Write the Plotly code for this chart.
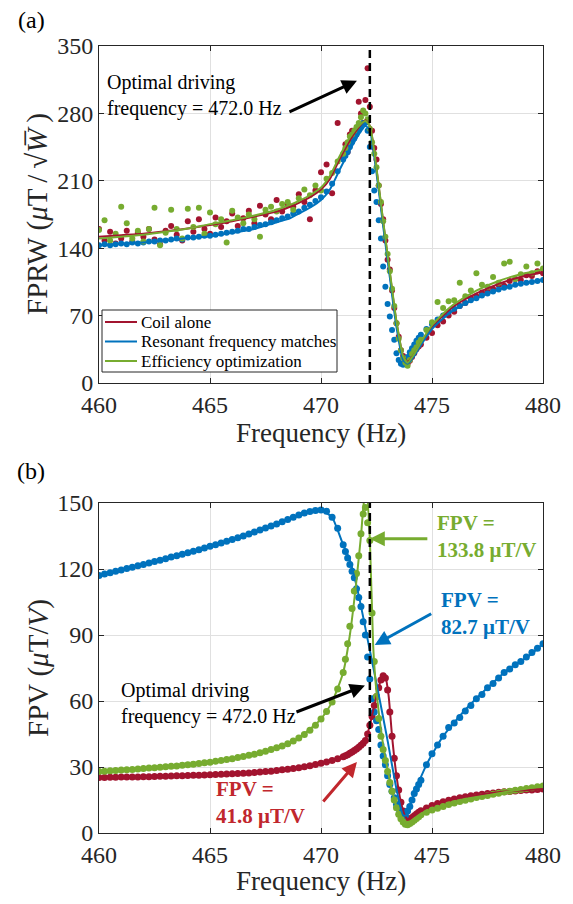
import numpy as np
import plotly.graph_objects as go

# ---------------- data ----------------
# measurement frequency grid (Hz)
FREQ = np.round(np.concatenate([
    np.arange(460.0, 471.001, 0.25),
    np.arange(471.1, 474.401, 0.1),
    np.arange(474.5, 480.001, 0.25),
]), 2)

# (a) FPRW measured points
FPRW_COIL = [160,148,157,145,150,158,147,156,152,160,149,144,158,163,154,148,168,157,170,160,155,172,162,168,176,163,171,179,166,184,175,170,190,178,186,183,196,188,170,200,219,227,197,270,235,
             248,240,258,262,255,264,292,280,270,294,327,287,262,244,232,205,186,170,148,128,118,96,78,62,48,34,28,22,20,23,27,31,35,38,
             40,47,52,60,64,70,74,80,83,88,90,94,95,98,102,101,106,108,107,112,111,116,114]
FPRW_RES = [143,144,143,144,145,144,146,145,146,147,147,148,148,149,150,149,151,151,152,153,153,154,155,156,157,158,160,160,162,164,165,167,169,171,173,176,178,182,185,189,193,199,207,220,232,
            236,240,245,250,254,258,262,266,270,270,262,245,220,200,188,169,150,121,100,82,69,55,45,31,24,20,19,22,27,32,36,40,44,47,
            50,56,61,66,70,74,77,80,83,86,88,91,93,95,97,99,100,102,103,104,105,106,107]
FPRW_EFF = [159,169,148,155,183,166,150,158,147,160,182,143,156,180,160,150,181,162,182,155,177,165,170,146,179,172,166,175,170,152,180,183,178,186,188,180,192,201,195,205,200,212,218,230,238,
            244,250,256,258,262,266,270,276,283,280,274,264,250,238,224,205,188,168,152,134,116,98,80,62,46,34,26,21,18,24,30,34,37,42,
            45,55,63,84,78,85,86,104,90,96,114,102,100,110,104,124,126,108,113,121,114,124,119]

# (a) fitted curves
FIT_A_FREQ = [460, 461, 462, 463, 464, 465, 466, 467, 468, 468.6, 469, 469.5, 470, 470.4, 470.85, 471.3, 471.75, 472.0, 472.2,
              472.5, 472.8, 473.1, 473.4, 473.7, 473.9, 474.2, 474.6, 475, 475.5, 476, 477, 478, 479, 480]
FIT_A_COIL = [152, 153.5, 155, 157.5, 160.5, 164, 168, 173, 178, 183, 187, 193, 201, 212, 233, 252, 267, 273, 267,
              222, 167, 114, 63, 28, 22, 30, 45, 58, 70, 80, 93, 103, 110, 115]
FIT_A_RES = [143, 144.5, 146, 148, 150.5, 152.5, 156, 160, 167, 171, 176, 182, 190, 201, 222, 242, 260, 267, 262,
             218, 163, 110, 58, 24, 20, 28, 43, 56, 67, 76, 88, 97, 103, 107]
FIT_A_EFF = [150, 152, 154, 157, 160.5, 165, 169, 174, 180, 185, 189, 195, 203, 215, 236, 255, 268, 272, 267,
             223, 168, 116, 64, 28, 21, 30, 46, 60, 72, 82, 96, 106, 113, 118]

# (b) FPV measured points
FPV_COIL = [25.2,25.2,25.3,25.3,25.4,25.4,25.5,25.5,25.6,25.6,25.7,25.8,25.8,25.9,26.0,26.0,26.1,26.2,26.3,26.4,26.5,26.6,26.7,26.8,26.9,27.0,27.2,27.3,27.5,27.7,27.9,28.1,28.4,28.7,29.0,29.3,29.7,30.1,30.6,31.1,31.7,32.3,33.0,33.8,34.7,
            35.1,35.6,36.2,36.8,37.5,38.2,39.0,39.9,40.8,42.0,45,49,53,58,62,66,69.5,71.5,70.5,65,55,44,34,26,19.5,14,10,7.5,6,6.3,7,7.8,8.6,9.4,
            10.1,11.4,12.5,13.4,14.2,14.9,15.5,16.0,16.5,16.9,17.3,17.6,17.9,18.2,18.5,18.7,18.9,19.1,19.3,19.5,19.6,19.8,20.0]
FPV_RES = [117.0,117.7,118.3,119.0,119.6,120.2,120.8,121.5,122.1,122.7,123.4,124.0,124.7,125.4,126.0,126.7,127.4,128.1,128.8,129.5,130.3,131.0,131.8,132.6,133.4,134.2,135.0,135.9,136.8,137.7,138.6,139.5,140.5,141.5,142.5,143.5,144.5,145.4,146.1,146.6,146.8,146.3,143.5,138.5,131.0,
           128,125,122,119,116,111,107,103,96,90,80,70,61,55,51,47,40,35,31,26,22,19,16,13,11,9.5,8.5,8,10,12,15,18,20,22,
           24,31,36,40,44,48,50,52.5,55.5,58,61,63,66,68,70.5,73,74.5,76.5,78,80,82,84,86]
FPV_EFF = [28.0,28.1,28.3,28.4,28.6,28.8,28.9,29.1,29.3,29.5,29.7,29.9,30.1,30.3,30.5,30.8,31.0,31.3,31.6,31.9,32.2,32.6,33.0,33.4,33.8,34.3,34.8,35.3,35.8,36.5,37.2,37.9,38.7,39.6,40.6,41.8,43.2,44.8,46.7,49.0,51.8,55.2,59.5,65.5,73.0,
           79,86,94,102,110,118,126,136,145,148,141,133,100,78,62,52,44,38,33,28,23,19,15,11.5,8.5,6.5,5,4,3.8,4.3,5,5.8,6.6,7.4,
           8.3,9.4,10.4,11.3,12.1,12.9,13.6,14.3,14.9,15.5,16.1,16.6,17.1,17.6,18.1,18.6,19.0,19.4,19.8,20.2,20.6,21.0,21.4]

# (b) fitted curves
FIT_B_COIL_F = [460, 463, 466, 468, 469, 470, 470.5, 471, 471.5, 471.8, 472.0, 472.2, 472.4, 472.6, 472.75, 472.9, 473.05,
                473.2, 473.4, 473.6, 473.8, 473.95, 474.2, 474.6, 475.2, 476, 477, 478, 479, 480]
FIT_B_COIL = [25.2, 25.8, 26.9, 28.4, 29.7, 31.7, 33.0, 34.7, 37.5, 39.9, 42.0, 49, 58, 66, 71.5, 71, 62,
              44, 26, 14, 7.5, 6, 7.8, 10.5, 13.6, 15.5, 17.3, 18.5, 19.3, 20.0]
FIT_B_RES_F = [460, 462, 464, 466, 468, 469, 469.5, 470, 470.5, 471, 471.3, 471.7, 472.1, 472.5, 473, 473.4, 473.7,
               473.85, 474.2, 474.8, 475.5, 476.5, 477.5, 478.5, 479.3, 480]
FIT_B_RES = [117, 122.1, 127.4, 133.4, 140.5, 144.5, 146.2, 146.8, 143.5, 131, 124, 108, 88, 68, 42, 20, 8,
             8, 18, 32, 44, 56, 66, 75, 80, 86]
FIT_B_EFF_F = [460, 462, 464, 466, 468, 469, 470, 470.5, 471, 471.3, 471.6, 471.8, 471.95, 472.05, 472.2, 472.35,
               472.5, 472.8, 473.1, 473.4, 473.7, 473.9, 474.2, 474.6, 475, 475.5, 476, 477, 478, 479, 480]
FIT_B_EFF = [28, 29.3, 31, 33.8, 38.7, 43.2, 51.8, 59.5, 73, 90, 115, 135, 152, 155, 133.8, 85,
             64, 40, 24, 12, 5, 3.8, 6, 8.7, 10.4, 12.1, 13.6, 16.1, 18.1, 19.8, 21.4]

OPT_FREQ = 472.2
X_TICKS = [460, 465, 470, 475, 480]
Y_TICKS_A = [0, 70, 140, 210, 280, 350]
Y_TICKS_B = [0, 30, 60, 90, 120, 150]
SERIES = ["Coil alone", "Resonant frequency matches", "Efficiency optimization"]

# ---------------- style / layout helpers ----------------
OX, OY = 8, 8            # page body margin offset
FW, FH = 557, 888        # figure size
RED, BLUE, GREEN = "#A2142F", "#0072BD", "#77AC30"
TXT_RED = "#C1272D"
FONT = "Liberation Serif, Times New Roman, serif"
AX = "#262626"
GRID = "#e0e0e0"


def px(x):
    return (x - OX) / FW


def py(y):
    return 1 - (y - OY) / FH


fig = go.Figure()
colors = [RED, BLUE, GREEN]

# (a) markers
for vals, c in zip([FPRW_COIL, FPRW_RES, FPRW_EFF], colors):
    fig.add_trace(go.Scatter(x=FREQ, y=vals, mode="markers", xaxis="x", yaxis="y",
                             marker=dict(color=c, size=6), showlegend=False, hoverinfo="skip"))
# (a) fits
for vals, c, name in zip([FIT_A_COIL, FIT_A_RES, FIT_A_EFF], colors, SERIES):
    fig.add_trace(go.Scatter(x=FIT_A_FREQ, y=vals, mode="lines", xaxis="x", yaxis="y", name=name,
                             showlegend=False,
                             line=dict(color=c, width=2, shape="spline", smoothing=0.6)))

# (b) markers
for vals, c in zip([FPV_COIL, FPV_RES, FPV_EFF], colors):
    fig.add_trace(go.Scatter(x=FREQ, y=vals, mode="markers", xaxis="x2", yaxis="y2",
                             marker=dict(color=c, size=7), showlegend=False, hoverinfo="skip"))
# (b) fits
for fx, vals, c, name in zip([FIT_B_COIL_F, FIT_B_RES_F, FIT_B_EFF_F], [FIT_B_COIL, FIT_B_RES, FIT_B_EFF],
                             colors, SERIES):
    fig.add_trace(go.Scatter(x=fx, y=vals, mode="lines", xaxis="x2", yaxis="y2", name=name, showlegend=False,
                             line=dict(color=c, width=2, shape="spline", smoothing=0.5)))

common = dict(showgrid=True, gridcolor=GRID, gridwidth=1, automargin=False,
              showline=True, linecolor=AX, linewidth=1, mirror="ticks", ticks="inside",
              ticklen=5, tickcolor=AX, zeroline=False,
              tickfont=dict(family=FONT, size=24, color=AX))
xd = [px(99), px(543)]
fig.update_layout(
    width=FW, height=FH, margin=dict(l=0, r=0, t=0, b=0, autoexpand=False),
    paper_bgcolor="white", plot_bgcolor="white",
    xaxis=dict(domain=xd, anchor="y", range=[460, 480], tickvals=X_TICKS, **common),
    xaxis2=dict(domain=xd, anchor="y2", range=[460, 480], tickvals=X_TICKS, **common),
    yaxis=dict(domain=[py(383), py(46)], anchor="x", range=[0, 350], tickvals=Y_TICKS_A, **common),
    yaxis2=dict(domain=[py(833), py(503)], anchor="x2", range=[0, 150], tickvals=Y_TICKS_B, **common),
    showlegend=False,
)

# dashed optimal frequency lines
for xr, yr in (("x", "y domain"), ("x2", "y2 domain")):
    fig.add_shape(type="line", xref=xr, yref=yr, x0=OPT_FREQ, x1=OPT_FREQ, y0=0, y1=1,
                  line=dict(color="black", width=2.5, dash="8px,5px"))

# legend box (panel a)
fig.add_shape(type="rect", xref="paper", yref="paper", x0=px(102), x1=px(337), y0=py(372), y1=py(310),
              line=dict(color=AX, width=1), fillcolor="white", layer="above")
ann = []
for i, (name, c) in enumerate(zip(SERIES, colors)):
    yy = 322 + i * 19.5
    fig.add_shape(type="line", xref="paper", yref="paper", x0=px(105), x1=px(137), y0=py(yy), y1=py(yy),
                  line=dict(color=c, width=2), layer="above")
    ann.append(dict(text=name, x=px(139), y=py(yy), xref="paper", yref="paper", xanchor="left",
                    yanchor="middle", showarrow=False, font=dict(family=FONT, size=17, color="black")))


def text(t, x, y, size, color="black", xanchor="center", angle=0):
    ann.append(dict(text=t, x=px(x), y=py(y), xref="paper", yref="paper", xanchor=xanchor,
                    yanchor="middle", align="left", showarrow=False, textangle=angle,
                    font=dict(family=FONT, size=size, color=color)))


def arrow(x, y, ax, ay, color, xr="x2", yr="y2"):
    ann.append(dict(text="", x=x, y=y, xref=xr, yref=yr, ax=ax, ay=ay, showarrow=True,
                    arrowhead=2, arrowsize=1, arrowwidth=3, arrowcolor=color))


# panel labels
text("(a)", 31, 20, 24)
text("(b)", 31, 471, 24)
# axis titles
text("Frequency (Hz)", 321, 433, 27, AX)
text("Frequency (Hz)", 321, 881, 27, AX)
text("FPRW\u00a0(<i>μ</i>T\u2009/\u2009√<i>W̅</i>\u2009)", 38, 214, 29, AX, angle=-90)
text("FPV\u00a0(<i>μ</i>T/<i>V</i>)", 38, 668, 29, AX, angle=-90)

# panel (a) annotation
text("Optimal driving<br>frequency = 472.0 Hz", 105, 95, 20, xanchor="left")
arrow(471.62, 314, -69, 32, "black", "x", "y")

# panel (b) annotations
text("Optimal driving<br>frequency = 472.0 Hz", 119, 703, 20, xanchor="left")
arrow(471.98, 67, -70, 27, "black")
text("<b>FPV =<br>133.8 μT/V</b>", 435, 536, 21, GREEN, xanchor="left")
arrow(OPT_FREQ, 133.8, 59, 0, GREEN)
text("<b>FPV =<br>82.7 μT/V</b>", 439, 613, 21, BLUE, xanchor="left")
arrow(472.42, 85.5, 58, -32, BLUE)
text("<b>FPV =<br>41.8 μT/V</b>", 214, 802, 21, TXT_RED, xanchor="left")
arrow(471.62, 32.3, -35, 41, TXT_RED)

fig.update_layout(annotations=ann)
fig.write_html("out.html")
